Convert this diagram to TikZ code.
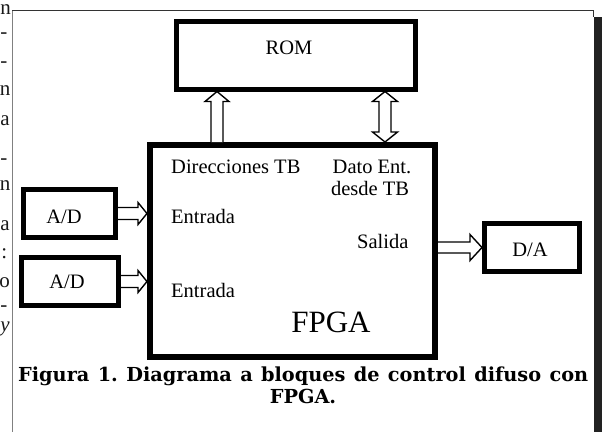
\documentclass[tikz,border=0pt]{standalone}
\usepackage{fontspec}
\setmainfont{Liberation Serif}
\newfontfamily\capfont{DejaVu Serif}
\usetikzlibrary{calc}
\definecolor{framegray}{HTML}{808080}
\definecolor{framedark}{HTML}{333333}
\definecolor{bardark}{HTML}{222222}
\tikzset{
  blk/.style={draw=black, fill=white, inner sep=0pt, line width=5pt},
  lbl/.style={font=\fontsize{20.5}{24}\selectfont, inner sep=0pt, anchor=base},
  lblw/.style={lbl, anchor=base west},
  hollow/.style={draw=black, fill=white, line width=1.4pt, line join=miter},
  stray/.style={font=\fontsize{21}{24}\selectfont, inner sep=0pt, anchor=base east, text=black!90},
  capt/.style={font=\capfont\bfseries\fontsize{19.3}{24}\selectfont, inner sep=0pt}
}
\begin{document}
\frenchspacing
\begin{tikzpicture}[x=1pt,y=-1pt]
\useasboundingbox (0,0) rectangle (605,432);
% frame
\draw[framegray, line width=1pt] (12,10) -- (12,432);
\draw[framedark, line width=1pt] (12,10) -- (593.5,10) -- (593.5,17);
\fill[bardark] (594,17) rectangle (602,432);
% stray column text
\node[stray] (s1) at (11,14) {n};
\node[stray] (s2) at (7.5,38) {-};
\node[stray] (s3) at (7.5,67) {-};
\node[stray] (s4) at (10.5,95) {n};
\node[stray] (s5) at (10,125) {a};
\node[stray] (s6) at (7.5,164) {-};
\node[stray] (s7) at (10.5,190) {n};
\node[stray] (s8) at (10,230) {a};
\node[stray] (s9) at (7.5,258) {:};
\node[stray] (s10) at (10,287) {o};
\node[stray] (s11) at (7.5,311) {-};
\node[stray] (s12) at (10,331) {\itshape y};
% blocks
\node[blk, minimum width=239pt, minimum height=68pt] (rom) at (295.5,55) {};
\node[blk, line width=6pt, minimum width=285pt, minimum height=212pt] (fpga) at (292.5,251) {};
\node[blk, minimum width=92pt, minimum height=48pt] (ad1) at (69.5,213.5) {};
\node[blk, minimum width=97pt, minimum height=48pt] (ad2) at (70,281.5) {};
\node[blk, minimum width=95pt, minimum height=48pt] (da) at (532,247.5) {};
% labels
\node[lbl] (romt) at (289,54) {ROM};
\node[lbl] (ad1t) at (64,223) {A/D};
\node[lbl] (ad2t) at (67,288) {A/D};
\node[lbl] (dat) at (530,256) {D/A};
\node[lblw] (dir) at (171,173) {Direcciones TB};
\node[lbl] (dato) at (372,173) {Dato Ent.};
\node[lbl] (desde) at (370,195) {desde TB};
\node[lblw] (ent1) at (171,223) {Entrada};
\node[lblw] (ent2) at (171,297) {Entrada};
\node[lblw] (sal) at (357,248) {Salida};
\node[lbl, font=\fontsize{31}{36}\selectfont] (fpgat) at (331,332) {FPGA};
% hollow arrows
\coordinate (ux) at (217,0);
\coordinate (dx) at (385,0);
\path (ux |- fpga.north) coordinate (ub) (ux |- rom.south) coordinate (ut);
\draw[hollow] ($(ub)+(-6,0)$) -- ($(ut)+(-6,10)$) -- ($(ut)+(-12,10)$) -- (ut)
  -- ($(ut)+(12,10)$) -- ($(ut)+(6,10)$) -- ($(ub)+(6,0)$);
\path (dx |- fpga.north) coordinate (db) (dx |- rom.south) coordinate (dt);
\draw[hollow] (dt) -- ($(dt)+(12.5,10)$) -- ($(dt)+(6,10)$) -- ($(db)+(6,-10)$)
  -- ($(db)+(12.5,-10)$) -- (db) -- ($(db)+(-12.5,-10)$) -- ($(db)+(-6,-10)$)
  -- ($(dt)+(-6,10)$) -- ($(dt)+(-12.5,10)$) -- cycle;
\path (fpga.west |- ad1.east) coordinate (t1) (fpga.west |- ad2.east) coordinate (t2);
\draw[hollow] ($(ad1.east)+(0,-6)$) -- ($(t1)+(-9,-6)$) -- ($(t1)+(-9,-11)$) -- (t1)
  -- ($(t1)+(-9,11)$) -- ($(t1)+(-9,6)$) -- ($(ad1.east)+(0,6)$);
\draw[hollow] ($(ad2.east)+(0,-6)$) -- ($(t2)+(-9,-6)$) -- ($(t2)+(-9,-11)$) -- (t2)
  -- ($(t2)+(-9,11)$) -- ($(t2)+(-9,6)$) -- ($(ad2.east)+(0,6)$);
\path (fpga.east |- da.west) coordinate (sb);
\draw[hollow] ($(sb)+(0,-5.5)$) -- ($(da.west)+(-12,-5.5)$) -- ($(da.west)+(-12,-13)$) -- (da.west)
  -- ($(da.west)+(-12,13)$) -- ($(da.west)+(-12,5.5)$) -- ($(sb)+(0,5.5)$);
% caption
\node[capt, anchor=base west] (cap1) at (18,381) {\makebox[570pt][s]{Figura 1. Diagrama a bloques de control difuso con}};
\node[capt, anchor=base] (cap2) at (303,403) {FPGA.};
\end{tikzpicture}
\end{document}
